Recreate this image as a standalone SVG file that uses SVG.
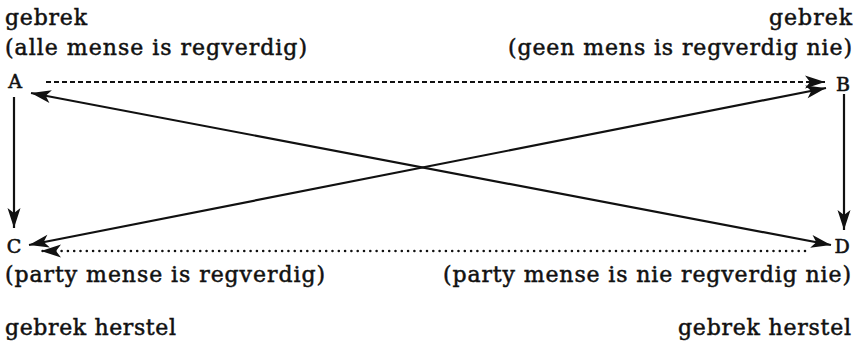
<svg xmlns="http://www.w3.org/2000/svg" width="860" height="345" viewBox="0 0 860 345">
<style>
.t{font-family:"DejaVu Serif","Liberation Serif",serif;font-size:22px;fill:#111;stroke:#111;stroke-width:0.5;}
.l{font-family:"DejaVu Serif","Liberation Serif",serif;font-size:19px;fill:#111;stroke:#111;stroke-width:0.6;text-anchor:middle;}
.s{stroke:#111;stroke-width:2.2;fill:none;}
.d{stroke:#111;stroke-width:2;fill:none;stroke-dasharray:5 3;}
.o{stroke:#111;stroke-width:2.6;fill:none;stroke-dasharray:0 6.3;stroke-linecap:round;}
</style>
<defs>
<marker id="h" viewBox="-22 -9 24 18" markerWidth="24" markerHeight="18" refX="0" refY="0" markerUnits="userSpaceOnUse" orient="auto-start-reverse">
<path d="M0,0 L-20,-6.5 L-15,0 L-20,6.5 Z" fill="#111"/>
</marker>
</defs>
<g id="node-A">
<text class="t" x="5" y="25" textLength="82" lengthAdjust="spacing">gebrek</text>
<text class="t" x="5" y="55" textLength="302" lengthAdjust="spacing">(alle mense is regverdig)</text>
<text class="l" x="15" y="88">A</text>
</g>
<g id="node-B">
<text class="t" x="769" y="25" textLength="83" lengthAdjust="spacing">gebrek</text>
<text class="t" x="508" y="55" textLength="344" lengthAdjust="spacing">(geen mens is regverdig nie)</text>
<text class="l" x="843" y="91">B</text>
</g>
<g id="node-C">
<text class="l" x="14" y="253">C</text>
<text class="t" x="5" y="282" textLength="320" lengthAdjust="spacing">(party mense is regverdig)</text>
<text class="t" x="5" y="335" textLength="171" lengthAdjust="spacing">gebrek herstel</text>
</g>
<g id="node-D">
<text class="l" x="842" y="253">D</text>
<text class="t" x="443" y="282" textLength="408" lengthAdjust="spacing">(party mense is nie regverdig nie)</text>
<text class="t" x="678" y="335" textLength="173" lengthAdjust="spacing">gebrek herstel</text>
</g>
<g id="connectors">
<line class="d" x1="46" y1="82" x2="825" y2="82" marker-end="url(#h)"/>
<line class="o" x1="805" y1="251" x2="41" y2="251" marker-end="url(#h)"/>
<line class="s" x1="31" y1="93" x2="831" y2="245" marker-start="url(#h)" marker-end="url(#h)"/>
<line class="s" x1="29" y1="245" x2="826" y2="88" marker-start="url(#h)" marker-end="url(#h)"/>
<line class="s" x1="14" y1="97" x2="14" y2="228" marker-end="url(#h)"/>
<line class="s" x1="844" y1="94" x2="844" y2="230" marker-end="url(#h)"/>
</g>
</svg>
